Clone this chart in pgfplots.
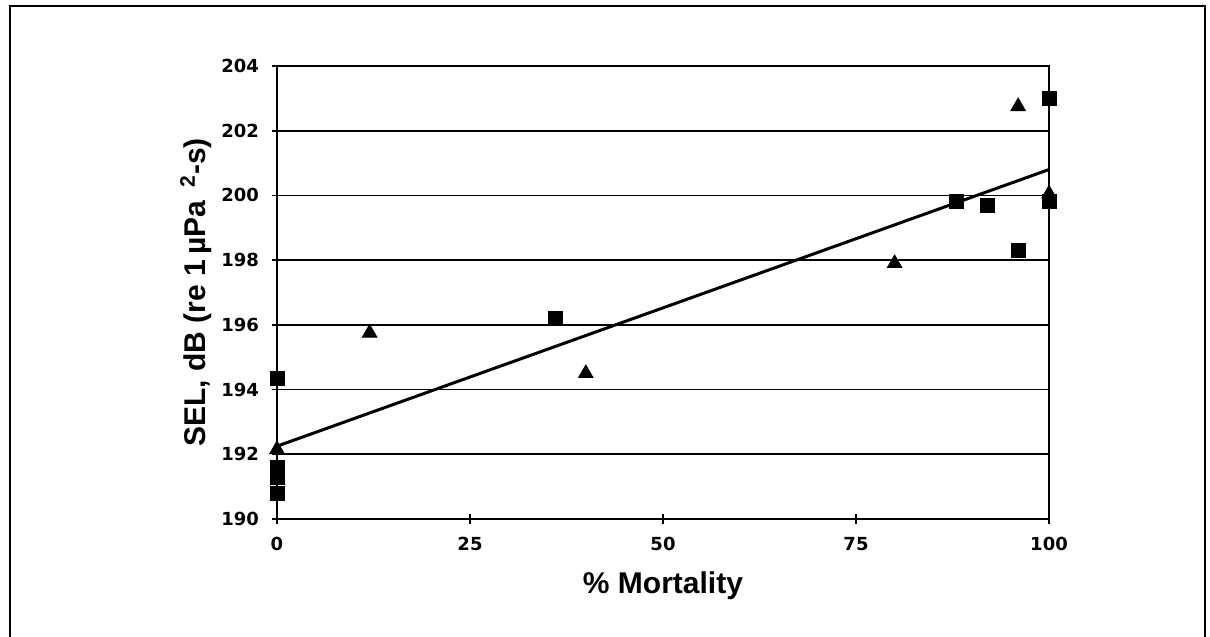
\documentclass[border=0pt]{standalone}
\usepackage{pgfplots}
\pgfplotsset{compat=1.18}
\usepackage{fontspec}
\setmainfont{Liberation Sans}
\newfontfamily\tickfont{DejaVu Sans}
\begin{document}
\begin{tikzpicture}
\useasboundingbox (0,0) rectangle (605pt,318.5pt);
\draw[line width=1pt] (4.75pt,-2pt) -- (4.75pt,315.5pt) -- (602.5pt,315.5pt) -- (602.5pt,-2pt);
\begin{axis}[
  at={(138.5pt,59pt)}, anchor=south west,
  scale only axis, width=386pt, height=226.5pt,
  xmin=0, xmax=100, ymin=190, ymax=204,
  xtick={0,25,50,75,100}, ytick={190,192,194,196,198,200,202,204},
  xtick pos=bottom, ytick pos=left,
  ymajorgrids, grid style={black, line width=0.9pt},
  axis line style={black, line width=1pt},
  tick style={black, line width=0.9pt},
  tick align=center, major tick length=5pt,
  /pgf/number format/assume math mode=true,
  ticklabel style={font=\tickfont\bfseries\fontsize{9}{9}\selectfont},
  xticklabel style={yshift=-3pt},
  yticklabel style={xshift=-3pt},
  xlabel={\bfseries\fontsize{15}{15}\selectfont \% Mortality},
  ylabel={\bfseries\fontsize{15}{15}\selectfont SEL, dB (re 1\,µPa \,\textsuperscript{2}-s)},
  xlabel style={at={(axis description cs:0.5,-0.148)}, anchor=center},
  ylabel style={at={(axis description cs:-0.105,0.5)}, anchor=center},
  clip=false,
]
\addplot[only marks, mark=square*, mark size=3.5pt, black] coordinates {
  (0,194.35) (0,191.6) (0,191.3) (0,190.8)
  (36,196.2) (88,199.8) (92,199.7) (96,198.3)
  (100,203.0) (100,199.8)
};
\addplot[only marks, mark=triangle*, mark size=4.2pt, black] coordinates {
  (0,192.15) (12,195.75) (40,194.5) (80,197.9) (96,202.75) (100,200.05)
};
\addplot[black, line width=1.5pt] coordinates {(0,192.25) (100,200.8)};
\end{axis}
\end{tikzpicture}
\end{document}
